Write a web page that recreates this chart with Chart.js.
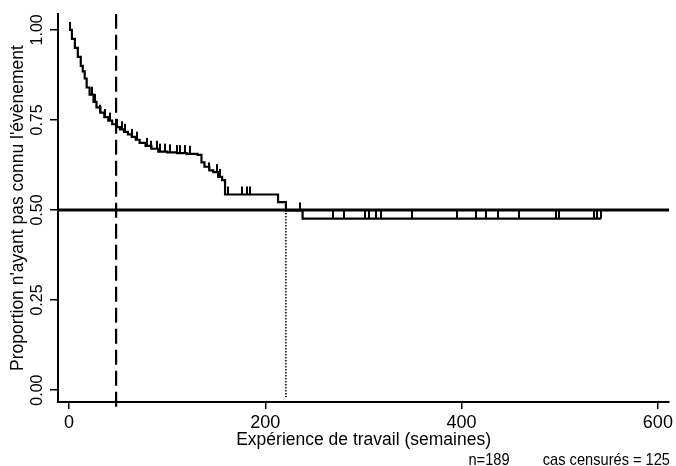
<!DOCTYPE html>
<html>
<head>
<meta charset="utf-8">
<script src="https://cdn.jsdelivr.net/npm/chart.js@4/dist/chart.umd.min.js"></script>
<style>
  html, body { margin: 0; padding: 0; background: #fff; }
  #wrap { width: 676px; height: 466px; }
</style>
</head>
<body>
<div id="wrap"><canvas id="kmChart" width="676" height="466"></canvas></div>
<script>
// ==========================================
// DATA
// ==========================================
// Kaplan-Meier steps: time (weeks) and survival after the step
const kmTimes = [0, 3, 6, 9, 12, 14, 16, 18, 21, 25, 28, 32, 36, 40, 44, 48, 52, 56, 60, 64,
                 68, 72, 78, 84, 91, 100, 110, 120, 131, 135, 138, 143, 147, 152, 156, 159,
                 213, 221, 238, 542];
const kmSurv  = [1.0, 0.975, 0.95, 0.925, 0.9, 0.885, 0.865, 0.84, 0.82, 0.80, 0.785, 0.77,
                 0.758, 0.748, 0.738, 0.73, 0.724, 0.717, 0.71, 0.703, 0.695, 0.686, 0.678,
                 0.67, 0.662, 0.66, 0.658, 0.656, 0.653, 0.632, 0.62, 0.61, 0.605, 0.592,
                 0.583, 0.543, 0.522, 0.499, 0.476, 0.476];

// censored cases (tick marks)
const censorTimes = [1, 23, 26, 32, 37, 42, 49, 54, 57, 64, 69, 79, 84, 90, 93, 98, 103, 110,
                     113, 118, 123, 143, 151, 154, 162, 176, 181, 184, 213, 235,
                     269, 280, 302, 306, 313, 318, 349, 395, 415, 425, 437, 459, 496, 499,
                     535, 538, 542];

const medianLevel = 0.5;
const medianTime = 221;   // dotted line
const refTime = 48;       // dashed line

const xTicks = [0, 200, 400, 600];
const yTicks = [0, 0.25, 0.5, 0.75, 1];
const yTickLabels = ['0.00', '0.25', '0.50', '0.75', '1.00'];

const xMin = -11.2, xMax = 611.5;
const yMin = -0.033, yMax = 1.044;

const xTitle = 'Expérience de travail (semaines)';
const yTitle = "Proportion n'ayant pas connu l'évènement";
const footLeft = 'n=189';
const footRight = 'cas censurés = 125';

// ==========================================
// HELPERS
// ==========================================
const INK = '#000';
const FONT = '"Liberation Sans", Arial, Helvetica, sans-serif';

function survAt(t) {
  let s = kmSurv[0];
  for (let i = 0; i < kmTimes.length; i++) {
    if (kmTimes[i] <= t) s = kmSurv[i];
  }
  return s;
}

// small upward tick used as point style for censored cases
const tickImg = document.createElement('canvas');
tickImg.width = 2;
tickImg.height = 18;
(function () {
  const c = tickImg.getContext('2d');
  c.fillStyle = INK;
  c.fillRect(0, 1, 2, 8);
})();

// draw rotated y tick labels + footer notes (narrow look via horizontal scale)
const extraText = {
  id: 'extraText',
  afterDraw(chart) {
    const ctx = chart.ctx;
    const y = chart.scales.y;
    ctx.save();
    ctx.fillStyle = INK;
    ctx.font = '16px ' + FONT;
    ctx.textAlign = 'center';
    ctx.textBaseline = 'middle';
    yTicks.forEach((v, i) => {
      ctx.save();
      ctx.translate(38, y.getPixelForValue(v));
      ctx.rotate(-Math.PI / 2);
      ctx.fillText(yTickLabels[i], 0, 0);
      ctx.restore();
    });
    ctx.font = '17px ' + FONT;
    ctx.save();
    ctx.translate(489, 460);
    ctx.scale(0.86, 1);
    ctx.textAlign = 'center';
    ctx.fillText(footLeft, 0, 0);
    ctx.restore();
    ctx.save();
    ctx.translate(670, 460);
    ctx.scale(0.86, 1);
    ctx.textAlign = 'right';
    ctx.fillText(footRight, 0, 0);
    ctx.restore();
    ctx.restore();
  }
};

// ==========================================
// CHART
// ==========================================
const ctx = document.getElementById('kmChart');
new Chart(ctx.getContext('2d'), {
  type: 'line',
  data: {
    datasets: [
      { // censored ticks
        data: censorTimes.map(t => ({ x: t, y: survAt(t) })),
        showLine: false,
        pointStyle: tickImg,
        pointRadius: 5,
        order: 1
      },
      { // KM curve
        data: kmTimes.map((t, i) => ({ x: t, y: kmSurv[i] })),
        stepped: true,
        borderColor: INK,
        borderWidth: 2.2,
        pointRadius: 0,
        order: 2
      },
      { // median level line
        data: [{ x: xMin, y: medianLevel }, { x: xMax, y: medianLevel }],
        borderColor: INK,
        borderWidth: 3,
        pointRadius: 0,
        order: 3
      },
      { // dashed reference line
        data: [{ x: refTime, y: yMin - 0.013 }, { x: refTime, y: yMax }],
        borderColor: INK,
        borderWidth: 2.2,
        borderDash: [15, 6],
        pointRadius: 0,
        clip: false,
        order: 4
      },
      { // dotted median time line
        data: [{ x: medianTime, y: medianLevel }, { x: medianTime, y: -0.02 }],
        borderColor: INK,
        borderWidth: 1.5,
        borderDash: [1.5, 1.5],
        pointRadius: 0,
        order: 5
      }
    ]
  },
  options: {
    responsive: false,
    animation: false,
    layout: { padding: { left: 0, right: 6, top: 14, bottom: 0 } },
    plugins: {
      legend: { display: false },
      tooltip: { enabled: false }
    },
    scales: {
      x: {
        type: 'linear',
        min: xMin,
        max: xMax,
        afterBuildTicks: s => { s.ticks = xTicks.map(v => ({ value: v })); },
        afterFit: s => { s.height = 64; },
        grid: { drawOnChartArea: false, drawTicks: true, tickLength: 7, color: INK, lineWidth: 1.5 },
        border: { display: true, color: INK, width: 2 },
        ticks: {
          color: INK,
          font: { family: FONT, size: 18 },
          padding: 3,
          maxRotation: 0,
          callback: v => String(v)
        },
        title: {
          display: true,
          text: xTitle,
          color: INK,
          font: { family: FONT, size: 17.5 },
          padding: { top: 0, bottom: 15 }
        }
      },
      y: {
        type: 'linear',
        min: yMin,
        max: yMax,
        afterBuildTicks: s => { s.ticks = yTicks.map(v => ({ value: v })); },
        afterFit: s => { s.width = 58; },
        grid: { drawOnChartArea: false, drawTicks: true, tickLength: 8, color: INK, lineWidth: 1.5 },
        border: { display: true, color: INK, width: 2 },
        ticks: { display: false },
        title: {
          display: true,
          text: yTitle,
          color: INK,
          font: { family: FONT, size: 17.5 },
          padding: { top: 8, bottom: 0 }
        }
      }
    }
  },
  plugins: [extraText]
});
</script>
</body>
</html>
